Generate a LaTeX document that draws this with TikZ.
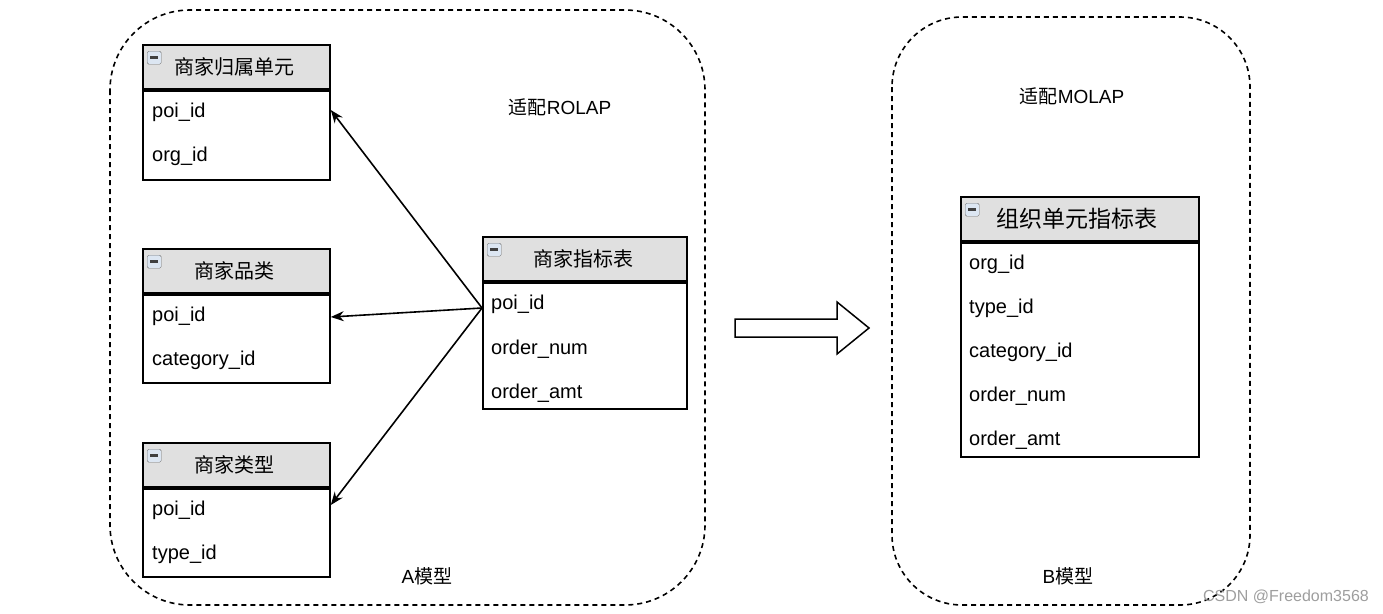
\documentclass[tikz,border=0pt]{standalone}
\usepackage{fontspec}
\setmainfont{Liberation Sans}
\newfontfamily\cjk{Noto Sans CJK SC}
\usetikzlibrary{positioning,arrows.meta}

\definecolor{headgray}{HTML}{E0E0E0}
\definecolor{iconblue}{HTML}{DCE6F2}

\tikzset{
  region/.style={draw, dash pattern=on 5pt off 4pt, line width=1.6pt},
  tabhead/.style={draw, line width=1.8pt, fill=headgray, anchor=north west, inner sep=0pt,
    minimum height=44pt, font=\cjk\fontsize{20}{24}\selectfont},
  tabbody/.style={draw, line width=1.8pt, inner sep=0pt},
  field/.style={anchor=west, inner sep=0pt, font=\fontsize{20}{24}\selectfont},
  icon/.style={draw=black!55, fill=iconblue, rounded corners=1.5pt, anchor=north west,
    minimum width=14pt, minimum height=13pt, inner sep=0pt,
    path picture={\draw[line width=2.5pt, black!75]
      ([xshift=3pt]path picture bounding box.west) -- ([xshift=-3pt]path picture bounding box.east);}},
  link/.style={line width=1.6pt, -{Stealth[length=13pt, width=10pt]}},
  modeltext/.style={inner sep=0pt, font=\fontsize{19}{23}\selectfont},
}

\begin{document}
\begin{tikzpicture}[x=1pt, y=1pt]
  \useasboundingbox (0,0) rectangle (1383,-613);

  % Draw model regions
  \draw[region, rounded corners=80pt] (110,-10) rectangle (705,-605);
  \draw[region, rounded corners=70pt] (892,-17) rectangle (1250,-605);

  % Draw table: 商家归属单元
  \node[tabhead, minimum width=187pt] (h1) at (142,-44) {\hspace{-4pt}商家归属单元};
  \node[tabbody, minimum width=187pt, minimum height=89pt, below=0pt of h1] (b1) {};
  \node[icon, below right=7pt and 5pt of h1.north west] (i1) {};
  \node[field] (p1) at (152,-112) {poi\_id};
  \node[field] (o1) at (152,-156) {org\_id};

  % Draw table: 商家品类
  \node[tabhead, minimum width=187pt] (h2) at (142,-248) {\hspace{-4pt}商家品类};
  \node[tabbody, minimum width=187pt, minimum height=88pt, below=0pt of h2] (b2) {};
  \node[icon, below right=7pt and 5pt of h2.north west] (i2) {};
  \node[field] (p2) at (152,-316) {poi\_id};
  \node[field] (c2) at (152,-360) {category\_id};

  % Draw table: 商家类型
  \node[tabhead, minimum width=187pt] (h3) at (142,-442) {\hspace{-4pt}商家类型};
  \node[tabbody, minimum width=187pt, minimum height=88pt, below=0pt of h3] (b3) {};
  \node[icon, below right=7pt and 5pt of h3.north west] (i3) {};
  \node[field] (p3) at (152,-510) {poi\_id};
  \node[field] (t3) at (152,-554) {type\_id};

  % Draw table: 商家指标表
  \node[tabhead, minimum width=204pt] (h4) at (482,-236) {\hspace{-3pt}商家指标表};
  \node[tabbody, minimum width=204pt, minimum height=126pt, below=0pt of h4] (b4) {};
  \node[icon, below right=7pt and 5pt of h4.north west] (i4) {};
  \node[field] (p4) at (491,-304) {poi\_id};
  \node[field] (n4) at (491,-349) {order\_num};
  \node[field] (a4) at (491,-393) {order\_amt};

  % Draw table: 组织单元指标表
  \node[tabhead, minimum width=238pt, font=\cjk\fontsize{23}{27}\selectfont] (h5) at (960,-196) {\hspace{-6pt}组织单元指标表};
  \node[tabbody, minimum width=238pt, minimum height=214pt, below=0pt of h5] (b5) {};
  \node[icon, below right=7pt and 5pt of h5.north west] (i5) {};
  \node[field] (o5) at (969,-264) {org\_id};
  \node[field] (t5) at (969,-308) {type\_id};
  \node[field] (c5) at (969,-352) {category\_id};
  \node[field] (n5) at (969,-396) {order\_num};
  \node[field] (a5) at (969,-440) {order\_amt};

  % Connect fact table to dimensions
  \coordinate (src) at ([yshift=-4pt]b4.west |- p4);
  \draw[link] (src) -- ([yshift=2pt]b1.east |- p1);
  \draw[link] (src) -- ([yshift=-1pt]b2.east |- p2);
  \draw[link] (src) -- ([yshift=5pt]b3.east |- p3);

  % Draw transform arrow
  \draw[line width=1.5pt] (735,-319) -- (837,-319) -- (837,-302) -- (869,-328)
    -- (837,-354) -- (837,-337) -- (735,-337) -- cycle;

  % Label models
  \node[modeltext] (rolap) at (560,-107) {{\cjk 适配}ROLAP};
  \node[modeltext] (molap) at (1072,-96) {{\cjk 适配}MOLAP};
  \node[modeltext] (ma) at (427,-576) {A{\cjk 模型}};
  \node[modeltext] (mb) at (1068,-576) {B{\cjk 模型}};

  % Watermark
  \node[inner sep=0pt, text=black!38, font=\fontsize{16}{19}\selectfont] (wm) at (1286,-597) {CSDN @Freedom3568};
\end{tikzpicture}
\end{document}
